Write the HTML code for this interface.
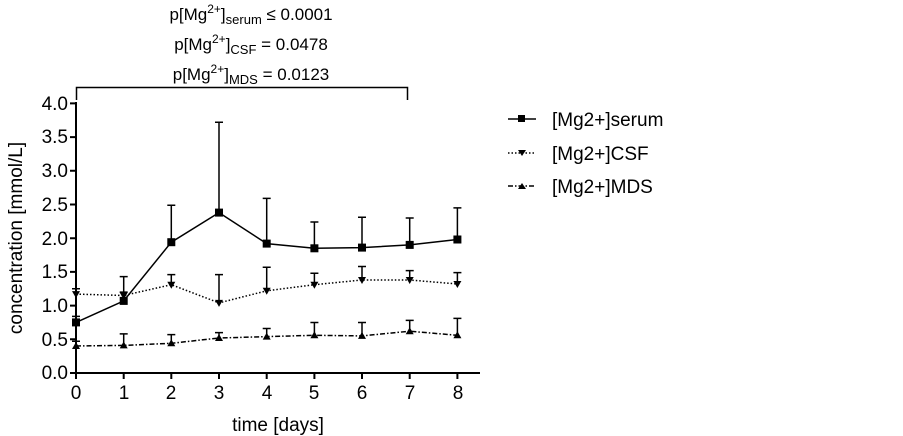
<!DOCTYPE html>
<html><head><meta charset="utf-8"><style>
html,body{margin:0;padding:0;background:#fff;}
svg{display:block;font-family:"Liberation Sans",Arial,sans-serif;}
</style></head><body>
<svg width="903" height="436" viewBox="0 0 903 436" xmlns="http://www.w3.org/2000/svg">
<defs>
<rect id="sq" x="-4" y="-4" width="8" height="8"/>
<path id="dn" d="M-4 -3H4L0 4Z"/>
<path id="up" d="M-4 3H4L0 -4Z"/>
</defs>
<rect width="903" height="436" fill="#fff"/>
<g font-size="17" fill="#000" text-anchor="middle">
<text x="251" y="20">p[Mg<tspan font-size="12" dy="-7">2+</tspan><tspan dy="7">]</tspan><tspan font-size="13" dy="4">serum</tspan><tspan dy="-4"> ≤ 0.0001</tspan></text>
<text x="251" y="50">p[Mg<tspan font-size="12" dy="-7">2+</tspan><tspan dy="7">]</tspan><tspan font-size="13" dy="4">CSF</tspan><tspan dy="-4"> = 0.0478</tspan></text>
<text x="251" y="80">p[Mg<tspan font-size="12" dy="-7">2+</tspan><tspan dy="7">]</tspan><tspan font-size="13" dy="4">MDS</tspan><tspan dy="-4"> = 0.0123</tspan></text>
</g>
<path d="M76.5 100V87.5H407.5V100" fill="none" stroke="#000" stroke-width="1.5"/>
<g stroke="#000" stroke-width="2" fill="none">
<path d="M76 102V374M70 373H480"/>
<path d="M70 339.3H76M70 305.6H76M70 271.9H76M70 238.2H76M70 204.5H76M70 170.8H76M70 137.1H76M70 103.4H76"/>
<path d="M123.7 373V379M171.3 373V379M219 373V379M266.7 373V379M314.4 373V379M362 373V379M409.7 373V379M457.4 373V379M76 373V379"/>
</g>
<g font-size="19" fill="#000" text-anchor="end">
<text x="68" y="379">0.0</text><text x="68" y="346">0.5</text><text x="68" y="312">1.0</text><text x="68" y="278">1.5</text><text x="68" y="245">2.0</text><text x="68" y="211">2.5</text><text x="68" y="177">3.0</text><text x="68" y="143">3.5</text><text x="68" y="110">4.0</text>
</g>
<g font-size="19" fill="#000" text-anchor="middle">
<text x="76" y="399">0</text><text x="124" y="399">1</text><text x="171" y="399">2</text><text x="219" y="399">3</text><text x="267" y="399">4</text><text x="314" y="399">5</text><text x="362" y="399">6</text><text x="410" y="399">7</text><text x="458" y="399">8</text>
<text x="278" y="431">time [days]</text>
<text transform="translate(22 238) rotate(-90)">concentration [mmol/L]</text>
</g>
<g stroke="#000" stroke-width="1.5" fill="none">
<!-- error bars -->
<path d="M76 294.1V288.8M72 288.8H80M123.7 295.5V292.1M119.7 292.1H127.7M171.3 284.7V274.6M167.3 274.6H175.3M219 302.9V274.6M215 274.6H223M266.7 290.8V267.2M262.7 267.2H270.7M314.4 284.7V273.2M310.4 273.2H318.4M362 280V266.5M358 266.5H366M409.7 280V270.6M405.7 270.6H413.7M457.4 284V272.6M453.4 272.6H461.4"/>
<path d="M76 346V341.3M72 341.3H80M123.7 345.4V333.9M119.7 333.9H127.7M171.3 343.3V334.6M167.3 334.6H175.3M219 338V332.6M215 332.6H223M266.7 336.6V328.5M262.7 328.5H270.7M314.4 335.3V322.5M310.4 322.5H318.4M362 335.9V322.5M358 322.5H366M409.7 331.2V320.4M405.7 320.4H413.7M457.4 335.3V318.4M453.4 318.4H461.4"/>
<path d="M76 322.4V316.4M72 316.4H80M123.7 300.9V276.6M119.7 276.6H127.7M171.3 242.2V205.2M167.3 205.2H175.3M219 212.6V122.3M215 122.3H223M266.7 243.6V198.4M262.7 198.4H270.7M314.4 248.3V222M310.4 222H318.4M362 247.6V217.3M358 217.3H366M409.7 244.9V218M405.7 218H413.7M457.4 239.5V207.9M453.4 207.9H461.4"/>
<path stroke-dasharray="1.5 2" d="M76 294.1L123.7 295.5L171.3 284.7L219 302.9L266.7 290.8L314.4 284.7L362 280L409.7 280L457.4 284"/>
<path stroke-dasharray="5 2 1.5 2" d="M76 346L123.7 345.4L171.3 343.3L219 338L266.7 336.6L314.4 335.3L362 335.9L409.7 331.2L457.4 335.3"/>
<path d="M76 322.4L123.7 300.9L171.3 242.2L219 212.6L266.7 243.6L314.4 248.3L362 247.6L409.7 244.9L457.4 239.5"/>
</g>
<g fill="#000">
<use href="#dn" x="76" y="294.1"/><use href="#dn" x="123.7" y="295.5"/><use href="#dn" x="171.3" y="284.7"/><use href="#dn" x="219" y="302.9"/><use href="#dn" x="266.7" y="290.8"/><use href="#dn" x="314.4" y="284.7"/><use href="#dn" x="362" y="280"/><use href="#dn" x="409.7" y="280"/><use href="#dn" x="457.4" y="284"/>
<use href="#up" x="76" y="346"/><use href="#up" x="123.7" y="345.4"/><use href="#up" x="171.3" y="343.3"/><use href="#up" x="219" y="338"/><use href="#up" x="266.7" y="336.6"/><use href="#up" x="314.4" y="335.3"/><use href="#up" x="362" y="335.9"/><use href="#up" x="409.7" y="331.2"/><use href="#up" x="457.4" y="335.3"/>
<use href="#sq" x="76" y="322.4"/><use href="#sq" x="123.7" y="300.9"/><use href="#sq" x="171.3" y="242.2"/><use href="#sq" x="219" y="212.6"/><use href="#sq" x="266.7" y="243.6"/><use href="#sq" x="314.4" y="248.3"/><use href="#sq" x="362" y="247.6"/><use href="#sq" x="409.7" y="244.9"/><use href="#sq" x="457.4" y="239.5"/>
</g>
<g font-size="19" fill="#000">
<text x="552" y="126">[Mg2+]serum</text>
<text x="552" y="160">[Mg2+]CSF</text>
<text x="552" y="193">[Mg2+]MDS</text>
</g>
<g stroke="#000" stroke-width="1.5">
<path d="M508 119H536"/>
<path d="M508 153H536" stroke-dasharray="1.5 2"/>
<path d="M508 186H536" stroke-dasharray="5 2 1.5 2"/>
</g>
<rect x="518" y="115" width="7" height="7"/>
<path d="M518 150H526L522 156Z"/>
<path d="M518 189H526L522 183Z"/>
</svg>
</body></html>
